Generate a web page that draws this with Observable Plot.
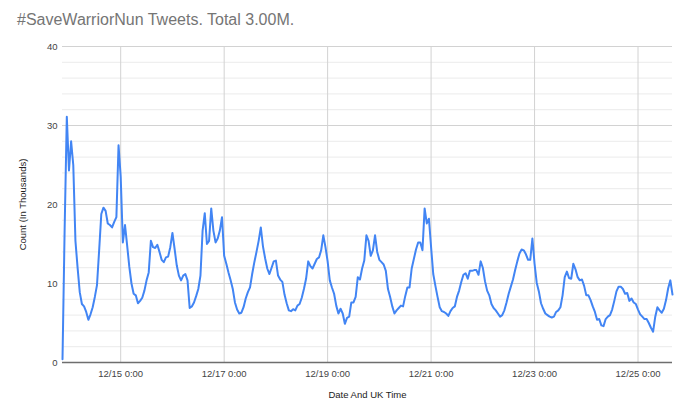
<!DOCTYPE html>
<html><head><meta charset="utf-8">
<script src="https://cdn.jsdelivr.net/npm/d3@7"></script>
<script src="https://cdn.jsdelivr.net/npm/@observablehq/plot@0.6"></script>
<style>
body{margin:0;background:#fff;width:680px;height:417px;overflow:hidden;font-family:"Liberation Sans",Arial,sans-serif}
#title{height:40px;box-sizing:border-box;padding:11px 0 0 17px;font-size:16px;color:#757575;line-height:18px;white-space:nowrap}
#chart svg{display:block}
</style></head><body>
<div id="title">#SaveWarriorNun Tweets. Total 3.00M.</div>
<div id="chart"></div>
<script>
// Hourly tweet counts (thousands), UK time, one array per day
const dec13 = [0.4, 17.0, 31.1]; // 21:00 - 23:00
const dec14 = [24.3, 28.0, 25.0, 15.4, 12.0, 8.9, 7.4, 7.1, 6.4, 5.4, 6.1, 7.0, 8.3, 9.8, 14.2, 18.8, 19.6, 19.2, 17.6, 17.4, 17.1, 17.8, 18.4, 27.5];
const dec15 = [23.5, 15.2, 17.4, 14.8, 12.1, 10.0, 8.7, 8.5, 7.5, 7.8, 8.2, 9.1, 10.4, 11.4, 15.4, 14.6, 14.5, 14.9, 14.0, 13.0, 12.7, 13.3, 13.4, 14.6];
const dec16 = [16.4, 14.4, 12.3, 11.0, 10.4, 11.0, 11.2, 10.4, 6.9, 7.1, 7.6, 8.4, 9.3, 11.0, 16.7, 18.9, 15.0, 15.4, 19.5, 16.7, 15.2, 15.7, 16.7, 18.4];
const dec17 = [13.5, 12.5, 11.4, 10.4, 9.3, 7.6, 6.7, 6.2, 6.3, 7.0, 8.1, 8.9, 9.5, 11.2, 12.7, 14.0, 15.4, 17.1, 14.7, 13.2, 11.9, 11.2, 12.0, 12.8];
const dec18 = [12.9, 11.0, 10.5, 10.2, 8.6, 7.5, 6.6, 6.5, 6.75, 6.6, 7.2, 7.4, 8.2, 9.3, 10.6, 12.8, 12.2, 11.9, 12.5, 13.1, 13.3, 14.2, 16.1, 14.6];
const dec19 = [12.8, 10.4, 9.5, 8.7, 7.2, 6.2, 6.8, 6.2, 4.9, 5.65, 5.8, 7.6, 7.6, 8.3, 10.8, 10.5, 11.9, 12.9, 16.1, 15.4, 13.5, 14.2, 16.1, 14.0];
const dec20 = [13.0, 12.7, 12.4, 11.6, 9.3, 8.3, 7.1, 6.2, 6.6, 6.9, 7.2, 7.1, 8.4, 9.5, 9.5, 11.9, 13.1, 14.3, 15.2, 15.2, 14.2, 19.5, 17.6, 18.2];
const dec21 = [14.6, 11.2, 9.7, 8.3, 7.0, 6.5, 6.4, 6.2, 5.9, 6.5, 6.9, 7.1, 8.3, 9.1, 10.2, 11.1, 11.3, 10.6, 11.6, 11.6, 11.7, 11.7, 11.1, 12.8];
const dec22 = [12.0, 10.3, 9.1, 8.5, 7.4, 6.9, 6.6, 6.2, 5.8, 6.0, 6.6, 7.6, 8.7, 9.6, 10.5, 11.7, 12.8, 13.8, 14.3, 14.2, 13.7, 13.0, 13.0, 15.7];
const dec23 = [12.5, 10.1, 9.0, 7.5, 6.8, 6.2, 6.0, 5.8, 5.7, 5.8, 6.4, 6.6, 7.0, 8.5, 10.8, 11.5, 10.7, 10.6, 12.5, 11.8, 10.8, 10.4, 10.5, 9.7];
const dec24 = [8.5, 8.5, 7.9, 7.1, 6.4, 5.4, 5.5, 4.7, 4.6, 5.5, 5.8, 6.0, 6.7, 7.8, 9.0, 9.6, 9.6, 9.3, 8.7, 8.8, 7.8, 8.1, 7.6, 7.4];
const dec25 = [6.7, 6.1, 5.8, 5.5, 5.5, 5.0, 4.4, 3.9, 5.8, 7.0, 6.6, 6.3, 6.8, 7.9, 9.4, 10.4, 8.6]; // 0:00 - 16:00

const days = [
  {day: 13, startHour: 21, values: dec13},
  {day: 14, startHour: 0, values: dec14},
  {day: 15, startHour: 0, values: dec15},
  {day: 16, startHour: 0, values: dec16},
  {day: 17, startHour: 0, values: dec17},
  {day: 18, startHour: 0, values: dec18},
  {day: 19, startHour: 0, values: dec19},
  {day: 20, startHour: 0, values: dec20},
  {day: 21, startHour: 0, values: dec21},
  {day: 22, startHour: 0, values: dec22},
  {day: 23, startHour: 0, values: dec23},
  {day: 24, startHour: 0, values: dec24},
  {day: 25, startHour: 0, values: dec25}
];

const xTickDays = [15, 17, 19, 21, 23, 25];
const yMajor = [0, 10, 20, 30, 40];
const yMinor = [2, 4, 6, 8, 12, 14, 16, 18, 22, 24, 26, 28, 32, 34, 36, 38];

const data = days.flatMap(d => d.values.map((v, i) => ({
  date: new Date(Date.UTC(2022, 11, d.day, d.startHour + i)),
  count: v
})));
const xTicks = xTickDays.map(d => new Date(Date.UTC(2022, 11, d)));
const fmt = d => `${d.getUTCMonth() + 1}/${d.getUTCDate()} 0:00`;

const chart = Plot.plot({
  width: 680,
  height: 377,
  marginTop: 6,
  marginLeft: 62,
  marginRight: 8,
  marginBottom: 55,
  style: {fontFamily: "'Liberation Sans', Arial, sans-serif", fontSize: "9.5px", background: "#fff", color: "#444"},
  x: {type: "utc", domain: [data[0].date, data[data.length - 1].date]},
  y: {domain: [0, 40]},
  marks: [
    Plot.ruleY(yMinor, {stroke: "#ebebeb", strokeWidth: 1}),
    Plot.ruleY(yMajor.filter(v => v !== 0), {stroke: "#d2d2d2", strokeWidth: 1}),
    Plot.ruleX(xTicks, {stroke: "#d2d2d2", strokeWidth: 1}),
    Plot.ruleY([0], {stroke: "#6e6e6e", strokeWidth: 1.5}),
    Plot.line(data, {x: "date", y: "count", stroke: "#4285f4", strokeWidth: 2}),
    Plot.axisX({ticks: xTicks, tickSize: 0, tickPadding: 8, tickFormat: fmt, label: null, fill: "#444"}),
    Plot.axisY({ticks: yMajor, tickSize: 0, tickPadding: 5, label: null, fill: "#444"}),
    Plot.text(["Date And UK Time"], {frameAnchor: "bottom", lineAnchor: "top", dy: 29, fill: "#222", fontSize: 9.5}),
    Plot.text(["Count (In Thousands)"], {frameAnchor: "left", rotate: -90, textAnchor: "middle", lineAnchor: "middle", dx: -40, fill: "#222", fontSize: 9.5})
  ]
});
document.getElementById("chart").appendChild(chart);
</script>
</body></html>
